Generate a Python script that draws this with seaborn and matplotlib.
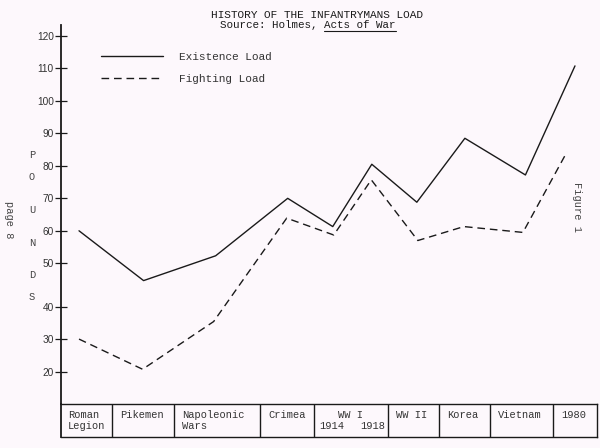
import numpy as np
import pandas as pd
import matplotlib
matplotlib.use("Agg")
import matplotlib.pyplot as plt
from matplotlib.lines import Line2D
import seaborn as sns

# ---------------- data ----------------
periods = ["Roman\nLegion", "Pikemen", "Napoleonic\nWars", "Crimea", "WW I",
           "WW II", "Korea", "Vietnam", "1980"]
# horizontal extent of each period column in the timeline table (arbitrary units)
period_edges = [0, 50, 112, 198, 252, 326, 377, 428, 491, 535]
ww1_years = ["1914", "1918"]

existence_x = [17.5, 82, 154, 226, 271, 310, 355, 403, 463.5, 513]
existence_load = [60, 46, 52.3, 70, 61.3, 80.5, 68.8, 88.5, 77.2, 110.8]
fighting_x = [17.5, 81, 152, 225, 272, 309.5, 356, 402, 461, 505]
fighting_load = [30, 20.7, 35.4, 63.9, 58.7, 75.7, 57, 61.3, 59.5, 84.3]

series_names = ["Existence Load", "Fighting Load"]
y_ticks = [20, 30, 40, 50, 60, 70, 80, 90, 100, 110, 120]

title = "HISTORY OF THE INFANTRYMANS LOAD"
source_prefix = "Source: Holmes, "
source_book = "Acts of War"

# ---------------- style ----------------
sns.set_theme(style="white")
MONO = ["Liberation Mono", "DejaVu Sans Mono"]
plt.rcParams["font.family"] = ["Liberation Sans", "DejaVu Sans"]
INK = "#1a1a1a"
BG = "#fdf8fc"

df = pd.DataFrame({
    "x": existence_x + fighting_x,
    "load": existence_load + fighting_load,
    "series": [series_names[0]] * len(existence_x) + [series_names[1]] * len(fighting_x),
})

fig = plt.figure(figsize=(6.0, 4.48), dpi=100, facecolor=BG)
W, H = 600.0, 448.0

# hand-drawn vertical scale: the 40-50 interval is drawn taller than the others
KN_V = np.array([-1000.0, 40.0, 50.0, 1000.0])
KN_U = np.array([-1003.36, 36.64, 50.0, 1000.0])
def fwd(v):
    return np.interp(v, KN_V, KN_U)
def inv(u):
    return np.interp(u, KN_U, KN_V)

ax = fig.add_axes([61.5 / W, 1 - 404 / H, 535.5 / W, 379 / H])
ax.set_facecolor(BG)
sns.lineplot(data=df, x="x", y="load", hue="series", style="series",
             palette={series_names[0]: INK, series_names[1]: INK},
             dashes={series_names[0]: "", series_names[1]: (5.5, 3.5)},
             estimator=None, sort=False, linewidth=1.0, ax=ax, legend=False)
ax.set_yscale("function", functions=(fwd, inv))
ax.set_ylim(10, 123.4)
ax.set_xlim(period_edges[0], period_edges[-1])
ax.set_yticks(y_ticks)
ax.set_yticklabels([str(t) for t in y_ticks])
ax.set_xticks([])
ax.set_xlabel("")
ax.set_ylabel("")
for s in ["top", "right", "bottom"]:
    ax.spines[s].set_visible(False)
ax.spines["left"].set_color(INK)
ax.spines["left"].set_linewidth(1.3)
ax.tick_params(axis="y", direction="inout", length=8, width=0.9, colors=INK,
               labelsize=7.3, pad=1.5, left=True)
for lab in ax.get_yticklabels():
    lab.set_color("#333333")

handles = [Line2D([], [], color=INK, lw=1.0),
           Line2D([], [], color=INK, lw=1.0, dashes=(5.5, 3.5))]
leg = ax.legend(handles, series_names, loc="upper left",
                bbox_to_anchor=((101 - 61.5) / 535.5, (404 - 52) / 379),
                frameon=False, borderpad=0, borderaxespad=0,
                handlelength=5.6, handletextpad=1.4, labelspacing=1.1,
                prop={"family": MONO, "size": 8})
for t in leg.get_texts():
    t.set_color("#333333")

# ---------------- timeline table ----------------
tab = fig.add_axes([61.5 / W, 1 - 437 / H, 535.5 / W, 33 / H])
tab.set_facecolor(BG)
tab.set_xlim(period_edges[0], period_edges[-1])
tab.set_ylim(0, 1)
tab.set_xticks([])
tab.set_yticks([])
for s in tab.spines.values():
    s.set_visible(True)
    s.set_color(INK)
    s.set_linewidth(1.0)
tab.spines["left"].set_linewidth(1.3)
tab.vlines(period_edges[1:-1], 0, 1, color=INK, lw=1.0)
tfont = dict(family=MONO, size=7.5, color="#333333")
for i, name in enumerate(periods):
    left, right = period_edges[i], period_edges[i + 1]
    if name == "WW I":
        tab.text((left + right) / 2, 0.67, name, ha="center", va="center", **tfont)
        tab.text(left + 6, 0.34, ww1_years[0], ha="left", va="center", **tfont)
        tab.text(right - 3, 0.34, ww1_years[1], ha="right", va="center", **tfont)
    else:
        for j, ln in enumerate(name.split("\n")):
            tab.text(left + (6.5 if i == 0 else 8.5), 0.66 - 0.33 * j, ln,
                     ha="left", va="center", **tfont)

# ---------------- titles & margin notes ----------------
fig.text(317 / W, 1 - 15 / H, title, ha="center", va="center",
         family=MONO, size=8, color=INK)
sub = fig.text(308 / W, 1 - 25.5 / H, source_prefix + source_book, ha="center",
               va="center", family=MONO, size=7.8, color=INK)
fig.canvas.draw()
bb = sub.get_window_extent(renderer=fig.canvas.get_renderer())
n = len(source_prefix + source_book)
cw = bb.width / n
x0 = bb.x0 + cw * len(source_prefix)
x1 = bb.x1
yline = bb.y0 - 0.5
fig.add_artist(Line2D([x0 / W, x1 / W], [yline / H, yline / H],
                      transform=fig.transFigure, color=INK, lw=0.8))

for letter, yp in zip("POUNDS", [155, 177, 210, 243, 275, 297]):
    fig.text(32 / W, 1 - yp / H, letter, ha="center", va="center",
             family=MONO, size=7.5, color="#444444")

fig.text(9 / W, 1 - 220 / H, "page 8", rotation=-90, ha="center", va="center",
         family=MONO, size=7.5, color="#444444")
fig.text(577 / W, 1 - 207 / H, "Figure 1", rotation=-90, ha="center", va="center",
         family=MONO, size=7.5, color="#444444")

fig.savefig("out.png", dpi=100, facecolor=BG)
